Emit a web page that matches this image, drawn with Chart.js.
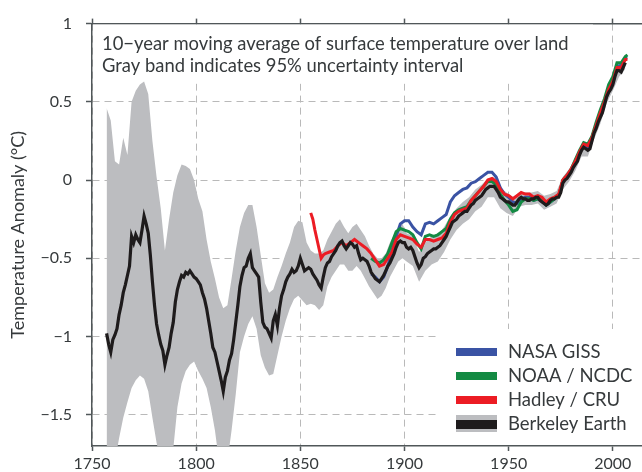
<!DOCTYPE html>
<html>
<head>
<meta charset="utf-8">
<script src="https://cdn.jsdelivr.net/npm/chart.js@4.4.0/dist/chart.umd.min.js"></script>
<style>
  html, body { margin: 0; padding: 0; background: #fff; overflow: hidden; }
</style>
</head>
<body>
<canvas id="tempChart" width="642" height="472"></canvas>
<script>
// ---- data ----
var xTicks = [1750, 1800, 1850, 1900, 1950, 2000];
var yTicks = [-1.5, -1, -0.5, 0, 0.5, 1];
var yTickLabels = ['\u22121.5', '\u22121', '\u22120.5', '0', '0.5', '1'];
var legendLabels = ['NASA GISS', 'NOAA / NCDC', 'Hadley / CRU', 'Berkeley Earth'];
var noteLines = ['10\u2212year moving average of surface temperature over land',
                 'Gray band indicates 95% uncertainty interval'];

// Berkeley Earth, one value per year starting 1757
var berkeleyStart = 1757;
var berkeleyVals = [
  -0.98, -1.05, -1.10, -1.02, -0.99, -0.95, -0.86, -0.80, -0.72, -0.67,
  -0.61, -0.55, -0.36, -0.40, -0.35, -0.38, -0.40, -0.32, -0.23, -0.28,
  -0.34, -0.48, -0.65, -0.80, -0.92, -0.99, -1.05, -1.09, -1.18, -1.12,
  -1.07, -0.98, -0.91, -0.78, -0.70, -0.65, -0.61, -0.62, -0.59, -0.60,
  -0.58, -0.60, -0.62, -0.63, -0.65, -0.67, -0.72, -0.76, -0.82, -0.90,
  -0.98, -1.07, -1.10, -1.16, -1.22, -1.28, -1.35, -1.26, -1.22, -1.15,
  -1.11, -1.02, -0.91, -0.80, -0.68, -0.61, -0.56, -0.55, -0.50, -0.47,
  -0.56, -0.58, -0.60, -0.62, -0.78, -0.91, -0.94, -0.95, -0.98, -1.01,
  -0.90, -0.86, -0.93, -0.82, -0.74, -0.70, -0.65, -0.62, -0.60, -0.57,
  -0.59, -0.58, -0.55, -0.50, -0.54, -0.58, -0.57, -0.56, -0.57, -0.60,
  -0.62, -0.64, -0.67, -0.69, -0.62, -0.56, -0.53, -0.52, -0.49, -0.47,
  -0.45, -0.42, -0.40, -0.39, -0.42, -0.44, -0.42, -0.40, -0.41, -0.43,
  -0.42, -0.47, -0.51, -0.50, -0.51, -0.52, -0.55, -0.59, -0.61, -0.63,
  -0.64, -0.65, -0.63, -0.61, -0.58, -0.55, -0.53, -0.50, -0.47, -0.43,
  -0.40, -0.39, -0.40, -0.40, -0.43, -0.44, -0.43, -0.45, -0.49, -0.53,
  -0.56, -0.54, -0.50, -0.49, -0.47, -0.46, -0.45, -0.44, -0.44, -0.43,
  -0.42, -0.40, -0.38, -0.36, -0.33, -0.30, -0.27, -0.26, -0.25, -0.23,
  -0.22, -0.21, -0.20, -0.20, -0.18, -0.16, -0.15, -0.13, -0.12, -0.11,
  -0.10, -0.08, -0.06, -0.05, -0.04, -0.04, -0.04, -0.06, -0.08, -0.11,
  -0.12, -0.13, -0.14, -0.14, -0.15, -0.16, -0.16, -0.14, -0.12, -0.11,
  -0.12, -0.12, -0.13, -0.13, -0.12, -0.12, -0.11, -0.11, -0.13, -0.14,
  -0.15, -0.16, -0.15, -0.13, -0.12, -0.12, -0.11, -0.11, -0.08, -0.02,
   0.00,  0.01,  0.03,  0.05,  0.08,  0.10,  0.12,  0.16,  0.19,  0.21,
   0.20,  0.19,  0.20,  0.25,  0.30,  0.33,  0.37,  0.40,  0.43,  0.48,
   0.53,  0.56,  0.58,  0.61,  0.66,  0.70,  0.70,  0.69,  0.72,  0.75
];

// 95% uncertainty band of Berkeley Earth
var bandYears = [
  1757, 1759, 1761, 1763, 1765, 1767, 1769, 1771, 1773, 1775,
  1777, 1779, 1781, 1783, 1785, 1787, 1789, 1791, 1793, 1795,
  1797, 1799, 1801, 1803, 1805, 1807, 1809, 1811, 1813, 1815,
  1817, 1819, 1821, 1823, 1825, 1827, 1829, 1831, 1833, 1835,
  1837, 1839, 1841, 1843, 1845, 1847, 1849, 1851, 1853, 1855,
  1857, 1859, 1861, 1863, 1865, 1867, 1869, 1871, 1873, 1875,
  1877, 1879, 1881, 1883, 1885, 1887, 1889, 1891, 1893, 1895,
  1897, 1899, 1901, 1904, 1907, 1910, 1913, 1916, 1919, 1922,
  1925, 1928, 1931, 1934, 1937, 1940, 1943, 1946, 1949, 1952,
  1955, 1958, 1961, 1964, 1967, 1970, 1973, 1976, 1979, 1982,
  1985, 1988, 1991, 1994, 1997, 2000, 2003, 2006
];
var bandUpper = [
   0.46,  0.38,  0.12,  0.10,  0.27,  0.16,  0.50,  0.57,  0.61,  0.63,
   0.55,  0.25,  0.02, -0.18, -0.45, -0.25, -0.08,  0.03,  0.10,  0.09,
   0.07,  0.00, -0.12, -0.20, -0.38, -0.52, -0.63, -0.75, -0.82, -0.80,
  -0.63, -0.45, -0.30, -0.21, -0.16, -0.16, -0.30, -0.48, -0.66, -0.72,
  -0.70, -0.62, -0.55, -0.47, -0.40, -0.30, -0.26, -0.27, -0.40, -0.45,
  -0.47, -0.47, -0.45, -0.38, -0.33, -0.28, -0.25, -0.30, -0.34, -0.30,
  -0.28, -0.32, -0.36, -0.42, -0.47, -0.50, -0.50, -0.47, -0.40, -0.35,
  -0.31, -0.28, -0.34, -0.36, -0.46, -0.40, -0.36, -0.35, -0.30, -0.23,
  -0.18, -0.14, -0.11, -0.06, -0.03,  0.01,  0.02, -0.05, -0.08, -0.11,
  -0.08, -0.08, -0.08, -0.07, -0.10, -0.09, -0.07,  0.02,  0.07,  0.14,
   0.23,  0.23,  0.34,  0.44,  0.57,  0.65,  0.74,  0.79
];
var bandLower = [
  -1.80, -1.80, -1.80, -1.65, -1.52, -1.42, -1.33, -1.28, -1.25, -1.27,
  -1.35, -1.52, -1.68, -1.80, -1.80, -1.80, -1.72, -1.45, -1.30, -1.22,
  -1.18, -1.16, -1.22, -1.27, -1.33, -1.45, -1.60, -1.80, -1.80, -1.80,
  -1.60, -1.37, -1.10, -1.00, -0.92, -0.87, -0.95, -1.12, -1.20, -1.25,
  -1.24, -1.12, -1.00, -0.90, -0.82, -0.76, -0.74, -0.77, -0.80, -0.79,
  -0.80, -0.83, -0.80, -0.68, -0.62, -0.58, -0.54, -0.54, -0.58, -0.58,
  -0.55, -0.58, -0.63, -0.68, -0.72, -0.76, -0.74, -0.69, -0.62, -0.57,
  -0.52, -0.50, -0.52, -0.55, -0.65, -0.58, -0.54, -0.52, -0.46, -0.38,
  -0.32, -0.28, -0.25, -0.20, -0.17, -0.11, -0.11, -0.18, -0.21, -0.23,
  -0.17, -0.16, -0.16, -0.15, -0.19, -0.17, -0.15, -0.06, -0.01,  0.06,
   0.15,  0.15,  0.26,  0.36,  0.49,  0.57,  0.66,  0.71
];

// Hadley / CRU
var hadleyYears = [
  1855, 1856, 1857, 1858, 1859, 1860, 1861, 1862,
  1864, 1866, 1868, 1870, 1872, 1874, 1876, 1878, 1880, 1882,
  1884, 1886, 1888, 1890, 1892, 1894, 1896, 1898, 1900, 1902,
  1904, 1906, 1908, 1910, 1912, 1914, 1916, 1918, 1920, 1922,
  1924, 1926, 1928, 1930, 1932, 1934, 1936, 1938, 1940, 1942,
  1944, 1946, 1948, 1950, 1952, 1954, 1956, 1958, 1960, 1962,
  1964, 1966, 1968, 1970, 1972, 1974, 1976, 1978, 1980, 1982,
  1984, 1986, 1988, 1990, 1992, 1994, 1996, 1998, 2000, 2002,
  2004, 2006, 2007
];
var hadleyVals = [
  -0.21, -0.25, -0.32, -0.38, -0.44, -0.50, -0.48, -0.47,
  -0.46, -0.45, -0.42, -0.40, -0.42, -0.40, -0.38, -0.40, -0.42, -0.44,
  -0.47, -0.51, -0.55, -0.54, -0.50, -0.46, -0.38, -0.35, -0.36, -0.37,
  -0.38, -0.41, -0.43, -0.38, -0.38, -0.39, -0.38, -0.37, -0.34, -0.27,
  -0.22, -0.20, -0.19, -0.18, -0.13, -0.10, -0.07, -0.04,  0.00,  0.01,
  -0.01, -0.06, -0.09, -0.10, -0.12, -0.10, -0.08, -0.09, -0.09, -0.11,
  -0.10, -0.11, -0.14, -0.12, -0.11, -0.09,  0.00,  0.03,  0.07,  0.12,
   0.18,  0.23,  0.22,  0.27,  0.35,  0.43,  0.50,  0.58,  0.63,  0.72,
   0.72,  0.77,  0.77
];

// NOAA / NCDC and NASA GISS share the same years
var modernYears = [
  1884, 1886, 1888, 1890, 1892, 1894, 1896, 1898,
  1900, 1902, 1904, 1906, 1908, 1910, 1912, 1914, 1916, 1918,
  1920, 1922, 1924, 1926, 1928, 1930, 1932, 1934, 1936, 1938,
  1940, 1942, 1944, 1946, 1948, 1950, 1952, 1954, 1956, 1958,
  1960, 1962, 1964, 1966, 1968, 1970, 1972, 1974, 1976, 1978,
  1980, 1982, 1984, 1986, 1988, 1990, 1992, 1994, 1996, 1998,
  2000, 2002, 2004, 2006, 2007
];
var noaaVals = [
  -0.50, -0.52, -0.53, -0.51, -0.47, -0.40, -0.33, -0.31,
  -0.32, -0.33, -0.35, -0.40, -0.44, -0.36, -0.35, -0.36, -0.35, -0.33,
  -0.31, -0.25, -0.21, -0.19, -0.18, -0.17, -0.13, -0.10, -0.07, -0.04,
  -0.01, -0.01, -0.03, -0.09, -0.13, -0.16, -0.20, -0.19, -0.14, -0.12,
  -0.12, -0.13, -0.12, -0.13, -0.16, -0.14, -0.12, -0.10,  0.00,  0.03,
   0.07,  0.13,  0.19,  0.24,  0.23,  0.28,  0.37,  0.45,  0.52,  0.61,
   0.66,  0.75,  0.75,  0.79,  0.80
];
var nasaVals = [
  -0.60, -0.62, -0.65, -0.62, -0.55, -0.45, -0.36, -0.28,
  -0.26, -0.26, -0.30, -0.33, -0.35, -0.28, -0.27, -0.28, -0.26, -0.24,
  -0.22, -0.14, -0.10, -0.08, -0.06, -0.05, -0.02, -0.01,  0.01,  0.03,
   0.05,  0.05,  0.02, -0.05, -0.09, -0.11, -0.14, -0.15, -0.12, -0.11,
  -0.11, -0.13, -0.12, -0.13, -0.16, -0.14, -0.12, -0.10, -0.01,  0.02,
   0.06,  0.12,  0.18,  0.22,  0.21,  0.27,  0.35,  0.43,  0.50,  0.59,
   0.64,  0.73,  0.73,  0.78,  0.78
];

// ---- styling ----
var FONT = 'Lato, "Noto Sans", sans-serif';
var INK = '#363a3c';
var AXIS = '#505759';
var GRID = '#b9b9b9';
var BAND = '#bcbdc0';
var seriesColors = ['#3a53a4', '#138a43', '#ec1c24', '#1e1b1c'];

function pairs(xs, ys) {
  return xs.map(function(x, i) { return {x: x, y: ys[i]}; });
}

var berkeleyData = berkeleyVals.map(function(v, i) { return {x: berkeleyStart + i, y: v}; });

var overlayPlugin = {
  id: 'overlay',
  beforeDatasetsDraw: function(chart) {
    var a = chart.chartArea, c = chart.ctx;
    c.save();
    // white panel behind the note (hides the grid lines there)
    c.fillStyle = '#fff';
    c.fillRect(a.left + 1, a.top + 1, 500, 59);
    c.fillStyle = INK;
    c.font = '18.4px ' + FONT;
    c.textBaseline = 'alphabetic';
    noteLines.forEach(function(t, i) {
      c.fillText(t, a.left + 10, a.top + 26 + i * 22);
    });
    c.restore();
  },
  afterDatasetsDraw: function(chart) {
    var a = chart.chartArea, c = chart.ctx;
    c.save();
    c.fillStyle = '#fff';
    c.fillRect(440, 329, a.right - 440, a.bottom - 329 - 1);
    c.font = '18.5px ' + FONT;
    c.textBaseline = 'middle';
    legendLabels.forEach(function(label, i) {
      var cy = 352 + i * 24;
      if (i === 3) {
        c.fillStyle = BAND;
        c.fillRect(456, cy - 9, 41, 17);
      }
      c.fillStyle = seriesColors[i];
      c.fillRect(456, cy - 4, 41, i === 3 ? 9 : 8);
      c.fillStyle = INK;
      c.fillText(label, 508, cy);
    });
    c.restore();
  }
};

var ctx = document.getElementById('tempChart').getContext('2d');
new Chart(ctx, {
  type: 'line',
  data: {
    datasets: [
      {label: 'Berkeley Earth', data: berkeleyData, borderColor: seriesColors[3], borderWidth: 3.2, order: 1, xAxisID: 'x', yAxisID: 'y'},
      {label: 'Hadley / CRU', data: pairs(hadleyYears, hadleyVals), borderColor: seriesColors[2], borderWidth: 3, order: 2, xAxisID: 'x', yAxisID: 'y'},
      {label: 'NOAA / NCDC', data: pairs(modernYears, noaaVals), borderColor: seriesColors[1], borderWidth: 3, order: 3, xAxisID: 'x', yAxisID: 'y'},
      {label: 'NASA GISS', data: pairs(modernYears, nasaVals), borderColor: seriesColors[0], borderWidth: 3, order: 4, xAxisID: 'x', yAxisID: 'y'},
      {label: 'band upper', data: pairs(bandYears, bandUpper), borderWidth: 0, borderColor: 'rgba(0,0,0,0)', fill: false, order: 5, xAxisID: 'x', yAxisID: 'y'},
      {label: 'band lower', data: pairs(bandYears, bandLower), borderWidth: 0, borderColor: 'rgba(0,0,0,0)', backgroundColor: BAND, fill: '-1', order: 6, xAxisID: 'x', yAxisID: 'y'}
    ]
  },
  options: {
    responsive: false,
    animation: false,
    devicePixelRatio: 1,
    layout: {padding: 0},
    elements: {point: {radius: 0}, line: {tension: 0}},
    plugins: {legend: {display: false}, tooltip: {enabled: false}},
    scales: {
      x: {
        type: 'linear', position: 'bottom', min: 1750, max: 2014,
        afterBuildTicks: function(s) { s.ticks = xTicks.map(function(v) { return {value: v}; }); },
        afterFit: function(s) { s.height = 26; },
        ticks: {color: INK, font: {family: FONT, size: 16}, padding: 3, maxRotation: 0,
                callback: function(v) { return String(v); }},
        grid: {color: GRID, lineWidth: 1, tickColor: AXIS, tickLength: 5, tickWidth: 1.5},
        border: {color: AXIS, width: 1.5, dash: [7, 5]}
      },
      xTop: {
        type: 'linear', position: 'top', min: 1750, max: 2014,
        afterBuildTicks: function(s) { s.ticks = xTicks.map(function(v) { return {value: v}; }); },
        afterFit: function(s) { s.height = 17; },
        ticks: {display: false},
        grid: {drawOnChartArea: false, tickColor: AXIS, tickLength: 5, tickWidth: 1.5},
        border: {color: AXIS, width: 1.5}
      },
      y: {
        type: 'linear', position: 'left', min: -1.7, max: 1,
        afterBuildTicks: function(s) { s.ticks = yTicks.map(function(v) { return {value: v}; }); },
        afterFit: function(s) { s.width = 92; },
        ticks: {color: INK, font: {family: FONT, size: 16}, padding: 14,
                callback: function(v, i) { return yTickLabels[i]; }},
        grid: {color: GRID, lineWidth: 1, tickColor: AXIS, tickLength: 6, tickWidth: 1.5},
        border: {color: AXIS, width: 1.5, dash: [7, 5]},
        title: {display: true, text: 'Temperature Anomaly (\u00b0C)', color: INK,
                font: {family: FONT, size: 18}, padding: {top: 7, bottom: 0}}
      }
    }
  },
  plugins: [overlayPlugin]
});
</script>
</body>
</html>
